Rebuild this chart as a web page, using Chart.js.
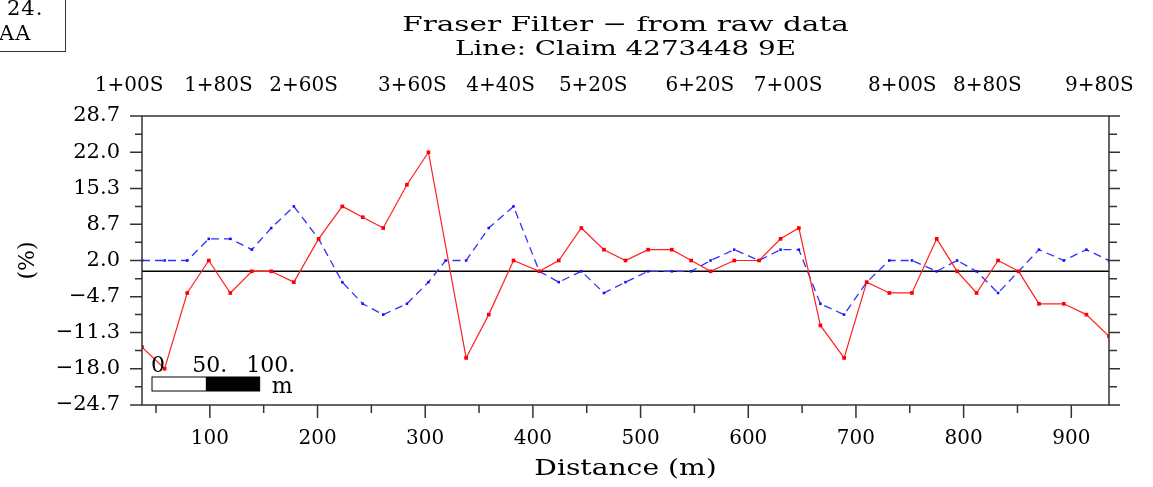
<!DOCTYPE html>
<html>
<head>
<meta charset="utf-8">
<title>Fraser Filter - from raw data</title>
<script src="https://cdn.jsdelivr.net/npm/chart.js@4.4.1/dist/chart.umd.min.js"></script>
<style>
  html, body { margin: 0; padding: 0; background: #fff; }
  #wrap { position: relative; width: 1153px; height: 487px; overflow: hidden; }
  #tag { position: absolute; left: -40px; top: -2px; width: 104px; height: 52px;
         border: 1.5px solid #333; font: 21px 'DejaVu Serif', serif; color: #000; }
  #tag span { position: absolute; white-space: nowrap; letter-spacing: 1px; }
</style>
</head>
<body>
<div id="wrap">
  <canvas id="fraserChart" width="1153" height="487"></canvas>
  <div id="tag"><span style="left:46px;top:-3px">24.</span><span style="left:38px;top:22px">AA</span></div>
</div>
<script>
// distance along line (m) for each reading
const distance = [37, 58, 79, 99, 119, 139, 157, 178, 201, 223, 242, 261, 283, 303, 319,
  338, 359, 382, 406, 424, 445, 466, 486, 507, 529, 547, 565, 587, 610, 630,
  647, 667, 689, 710, 731, 752, 775, 794, 812, 832, 851, 870, 893, 914, 935];
// red, solid (no reading at 319 m)
const inPhase = [-14, -18, -4, 2, -4, 0, 0, -2, 6, 12, 10, 8, 16, 22, null,
  -16, -8, 2, 0, 2, 8, 4, 2, 4, 4, 2, 0, 2, 2, 6,
  8, -10, -16, -2, -4, -4, 6, 0, -4, 2, 0, -6, -6, -8, -12];
// blue, dashed
const quadrature = [2, 2, 2, 6, 6, 4, 8, 12, 6, -2, -6, -8, -6, -2, 2,
  2, 8, 12, 0, -2, 0, -4, -2, 0, 0, 0, 2, 4, 2, 4,
  4, -6, -8, -2, 2, 2, 0, 2, 0, -4, 0, 4, 2, 4, 2];

const yTickValues = [28.7, 22.0, 15.3, 8.7, 2.0, -4.7, -11.3, -18.0, -24.7];
const yTickLabels = ['28.7', '22.0', '15.3', '8.7', '2.0', '\u22124.7', '\u221211.3', '\u221218.0', '\u221224.7'];
const xTickValues = [100, 200, 300, 400, 500, 600, 700, 800, 900];
const xMinorTicks = [50, 150, 250, 350, 450, 550, 650, 750, 850];
const stationDist = [25, 108, 187, 288, 370, 456, 555, 637, 743, 822, 926];
const stationLabels = ['1+00S', '1+80S', '2+60S', '3+60S', '4+40S', '5+20S', '6+20S', '7+00S', '8+00S', '8+80S', '9+80S'];
const scaleBarLabels = ['0', '50.', '100.'];

const FONT = "'DejaVu Serif', serif";

// draw text stretched to a fixed character pitch, like the plotter font
function pitchedText(ctx, text, cx, y, pitch) {
    const w = ctx.measureText(text).width;
    const sx = pitch * text.length / w;
    ctx.save();
    ctx.translate(cx, y);
    ctx.scale(sx, 1);
    ctx.textAlign = 'center';
    ctx.fillText(text, 0, 0);
    ctx.restore();
}

const framePlugin = {
    id: 'frame',
    beforeDatasetsDraw(chart) {
        const { ctx, chartArea: a, scales: { y } } = chart;
        const y0 = y.getPixelForValue(0);
        ctx.save();
        ctx.strokeStyle = '#000';
        ctx.lineWidth = 1.5;
        ctx.beginPath();
        ctx.moveTo(a.left, y0);
        ctx.lineTo(a.right, y0);
        ctx.stroke();
        ctx.restore();
    },
    afterDraw(chart) {
        const { ctx, chartArea: a, scales: { x, y } } = chart;
        ctx.save();
        ctx.strokeStyle = '#333';
        ctx.lineWidth = 1.5;
        ctx.strokeRect(a.left, a.top, a.right - a.left, a.bottom - a.top);

        ctx.beginPath();
        // y ticks on both sides, major and minor
        yTickValues.forEach((v, i) => {
            const py = y.getPixelForValue(v);
            ctx.moveTo(a.left - 12, py); ctx.lineTo(a.left, py);
            ctx.moveTo(a.right, py); ctx.lineTo(a.right + 11, py);
            if (i < yTickValues.length - 1) {
                const pm = y.getPixelForValue((v + yTickValues[i + 1]) / 2);
                ctx.moveTo(a.left - 7, pm); ctx.lineTo(a.left, pm);
                ctx.moveTo(a.right, pm); ctx.lineTo(a.right + 8, pm);
            }
        });
        xTickValues.forEach(v => {
            const px = x.getPixelForValue(v);
            ctx.moveTo(px, a.bottom); ctx.lineTo(px, a.bottom + 13);
        });
        xMinorTicks.forEach(v => {
            const px = x.getPixelForValue(v);
            ctx.moveTo(px, a.bottom); ctx.lineTo(px, a.bottom + 8);
        });
        ctx.stroke();

        // scale bar 0 - 100 m
        const w50 = x.getPixelForValue(50) - x.getPixelForValue(0);
        const bx = a.left + 10, by = a.bottom - 28;
        ctx.fillStyle = '#fff';
        ctx.fillRect(bx, by, w50, 14);
        ctx.fillStyle = '#000';
        ctx.fillRect(bx + w50, by, w50, 14);
        ctx.lineWidth = 1;
        ctx.strokeStyle = '#000';
        ctx.strokeRect(bx, by, w50 * 2, 14);
        ctx.font = '22px ' + FONT;
        ctx.textBaseline = 'alphabetic';
        ctx.textAlign = 'center';
        ctx.fillText(scaleBarLabels[0], bx + 6, by - 5);
        ctx.fillText(scaleBarLabels[1], bx + w50 + 4, by - 5);
        ctx.fillText(scaleBarLabels[2], bx + 2 * w50 + 11, by - 5);
        ctx.textAlign = 'left';
        ctx.fillText('m', bx + 2 * w50 + 12, by + 16);

        // titles and x axis title
        const cx = (a.left + a.right) / 2;
        ctx.font = '21px ' + FONT;
        pitchedText(ctx, 'Fraser Filter \u2212 from raw data', cx, 31, 15.4);
        pitchedText(ctx, 'Line: Claim 4273448 9E', cx, 55, 15.5);
        ctx.font = '22px ' + FONT;
        pitchedText(ctx, 'Distance (m)', cx, 475, 15.2);
        ctx.restore();
    }
};

const noPad = s => { s.paddingLeft = 0; s.paddingRight = 0; };

const ctx = document.getElementById('fraserChart').getContext('2d');
new Chart(ctx, {
    type: 'line',
    data: {
        datasets: [{
            label: 'In-phase',
            data: distance.map((d, i) => ({ x: d, y: inPhase[i] })),
            borderColor: '#ff2020',
            backgroundColor: '#ff0000',
            borderWidth: 1.2,
            pointStyle: 'rect',
            pointRadius: 2.6,
            pointBorderWidth: 0,
            spanGaps: true,
            tension: 0
        }, {
            label: 'Quadrature',
            data: distance.map((d, i) => ({ x: d, y: quadrature[i] })),
            borderColor: '#3030ff',
            backgroundColor: '#1010ff',
            borderWidth: 1.3,
            borderDash: [8, 5],
            pointStyle: 'rect',
            pointRadius: 1.8,
            pointBorderWidth: 0,
            tension: 0
        }]
    },
    options: {
        responsive: false,
        animation: false,
        devicePixelRatio: 1,
        layout: { padding: { left: 0, right: 44, top: 0, bottom: 0 } },
        plugins: { legend: { display: false }, tooltip: { enabled: false } },
        scales: {
            x: {
                type: 'linear',
                position: 'bottom',
                min: 37,
                max: 935,
                afterBuildTicks: s => { s.ticks = xTickValues.map(v => ({ value: v })); },
                afterFit: s => { s.height = 82; noPad(s); },
                grid: { display: false, drawTicks: false },
                border: { display: false },
                ticks: { autoSkip: false, maxRotation: 0, padding: 22, color: '#000',
                         font: { family: FONT, size: 20 }, callback: v => String(v) }
            },
            top: {
                type: 'linear',
                position: 'top',
                min: 37,
                max: 935,
                afterBuildTicks: s => { s.ticks = stationDist.map(v => ({ value: v })); },
                afterFit: s => { s.height = 116; noPad(s); },
                grid: { display: false, drawTicks: false },
                border: { display: false },
                ticks: { autoSkip: false, maxRotation: 0, padding: 18, color: '#000',
                         font: { family: FONT, size: 20 },
                         callback: v => stationLabels[stationDist.indexOf(v)] }
            },
            y: {
                min: -24.7,
                max: 28.7,
                afterBuildTicks: s => { s.ticks = yTickValues.map(v => ({ value: v })); },
                afterFit: s => { s.width = 142; },
                grid: { display: false, drawTicks: false },
                border: { display: false },
                ticks: { padding: 22, color: '#000', font: { family: FONT, size: 21 },
                         callback: v => yTickLabels[yTickValues.indexOf(v)] },
                title: { display: true, text: '(%)', color: '#000',
                         font: { family: FONT, size: 22 }, padding: { top: 15, bottom: 0 } }
            }
        }
    },
    plugins: [framePlugin]
});
</script>
</body>
</html>
